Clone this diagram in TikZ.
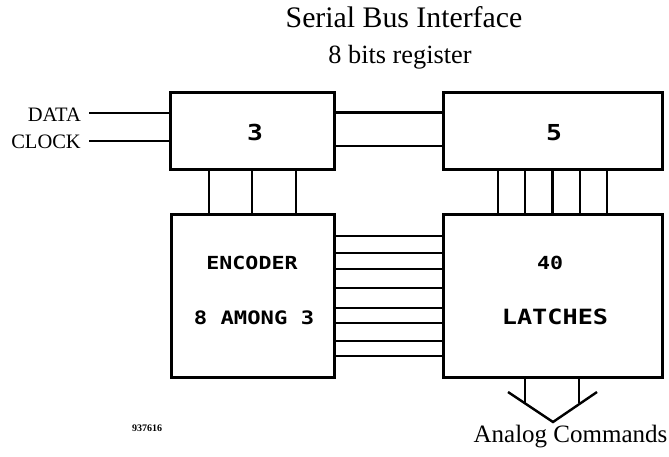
\documentclass[tikz,border=0pt]{standalone}
\usepackage{fontspec}
\setmainfont{Liberation Serif}
\newfontfamily\plotfont[FakeStretch=1.2]{DejaVu Sans Mono}
\begin{document}
\begin{tikzpicture}[x=1pt,y=-1pt,
  blk/.style={draw, line width=3pt, outer sep=0pt, inner sep=0pt},
  wire/.style={line width=2.4pt},
  lbl/.style={inner sep=0pt, font=\plotfont},
  ttl/.style={inner sep=0pt}]
\useasboundingbox (0,0) rectangle (669,456);
% blocks
\node[blk, minimum width=164pt, minimum height=77pt] (b3) at (252,130.5) {};
\node[blk, minimum width=219pt, minimum height=77pt] (b5) at (552.5,130.5) {};
\node[blk, minimum width=163pt, minimum height=163pt] (enc) at (252.5,295.5) {};
\node[blk, minimum width=219pt, minimum height=163pt] (lat) at (552.5,295.5) {};
% block labels
\node[lbl, font=\plotfont\bfseries\fontsize{22}{22}\selectfont] (t3) at (255,132) {3};
\node[lbl, font=\plotfont\bfseries\fontsize{22}{22}\selectfont] (t5) at (554,133) {5};
\node[lbl, font=\plotfont\bfseries\fontsize{18}{18}\selectfont] (tenc) at (252,263) {ENCODER};
\node[lbl, font=\plotfont\bfseries\fontsize{18.5}{18.5}\selectfont] (tamong) at (254,318) {8 AMONG 3};
\node[lbl, font=\plotfont\bfseries\fontsize{18}{18}\selectfont] (t40) at (550,263) {40};
\node[lbl, font=\plotfont\bfseries\fontsize{21}{21}\selectfont] (tlat) at (555,317) {LATCHES};
% titles
\node[ttl, anchor=base, font=\fontsize{29.8}{30}\selectfont] (title) at (404,27) {Serial Bus Interface};
\node[ttl, anchor=base, font=\fontsize{26.3}{27}\selectfont] (sub) at (400,63) {8 bits register};
\node[ttl, anchor=base east, font=\fontsize{20.5}{21}\selectfont] (data) at (81,121) {DATA};
\node[ttl, anchor=base east, font=\fontsize{20.5}{21}\selectfont] (clock) at (81,148) {CLOCK};
\node[ttl, anchor=base, font=\fontsize{25}{25}\selectfont] (analog) at (570.5,442) {Analog Commands};
\node[ttl, font=\bfseries\fontsize{10}{10}\selectfont] (ref) at (147,428) {937616};
% inputs
\coordinate (din) at (89,113);
\coordinate (cin) at (89,141);
\draw[wire] (din) -- (din -| b3.west);
\draw[wire] (cin) -- (cin -| b3.west);
% 3 -> 5
\foreach \d in {-18,15.5}
  \draw[wire] ([yshift=-\d pt]b3.east) -- ([yshift=-\d pt]b3.east -| b5.west);
% 3 -> encoder
\foreach \d in {-43,0,44}
  \draw[wire] ([xshift=\d pt]b3.south) -- ([xshift=\d pt]b3.south |- enc.north);
% 5 -> latches
\foreach \d in {-54.5,-27.5,0,27.5,54.5}
  \draw[wire] ([xshift=\d pt]b5.south) -- ([xshift=\d pt]b5.south |- lat.north);
% encoder -> latches
\foreach \d in {-59.5,-42.5,-26.5,-7.5,12.5,27.5,45.5,60.5}
  \draw[wire] ([yshift=-\d pt]enc.east) -- ([yshift=-\d pt]enc.east -| lat.west);
% outputs
\coordinate (cl) at (508,392);
\coordinate (ctip) at (553,422);
\coordinate (cr) at (597,392);
\draw[wire] ([xshift=-27.5pt]lat.south) -- ++(0,26.3);
\draw[wire] ([xshift=26.5pt]lat.south) -- ++(0,25.6);
\draw[wire, line join=miter] (cl) -- (ctip) -- (cr);
\end{tikzpicture}
\end{document}
